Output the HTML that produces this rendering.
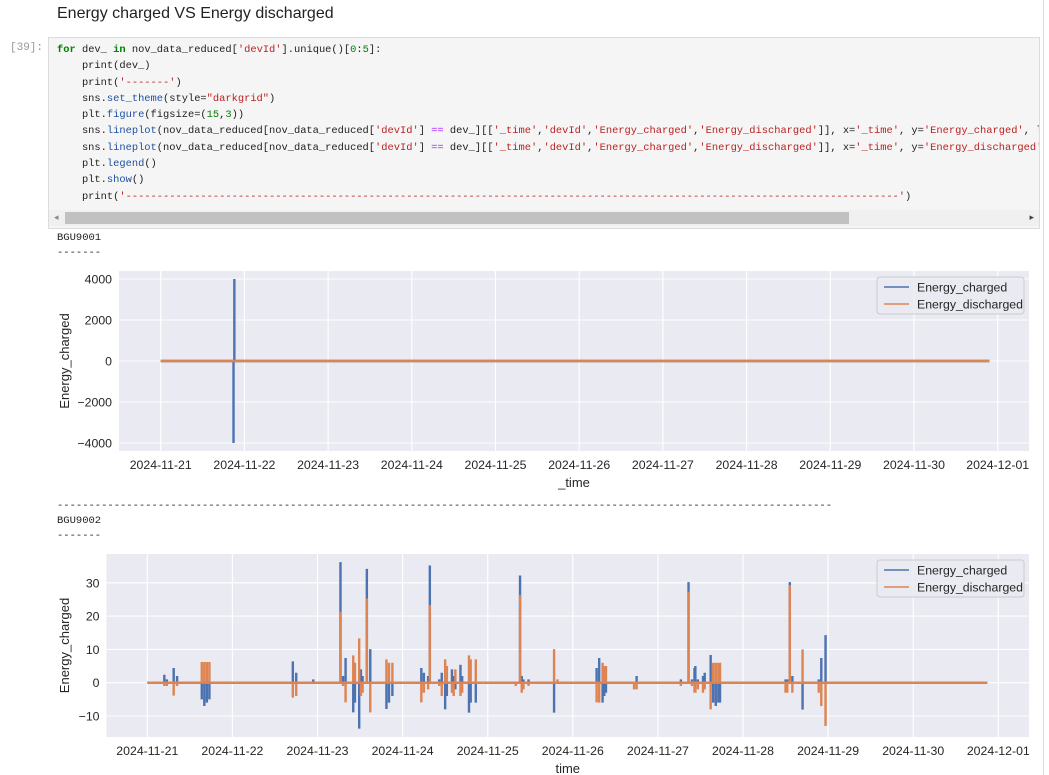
<!DOCTYPE html>
<html><head><meta charset="utf-8"><style>
body{margin:0;width:1049px;height:775px;background:#fff;position:relative;overflow:hidden;font-family:"Liberation Sans",sans-serif}
.abs{position:absolute}
#title{left:57px;top:5px;font-size:16px;color:#222}
#prompt{left:10px;top:42px;font:11px "Liberation Mono",monospace;color:#999}
#cell{left:48px;top:37px;width:990px;height:190px;border:1px solid #dcdcdc;background:#f5f5f5;overflow:hidden}
#code{position:absolute;left:8px;top:4px;margin:0;font:10.4px/16.3px "Liberation Mono",monospace;color:#212121;white-space:pre}
.k{color:#008000;font-weight:bold}.s{color:#ba2121}.n{color:#008000}.o{color:#aa22ff}.a{color:#1f4fa0}
#scroll{position:absolute;left:0;top:172px;width:990px;height:16px;background:#f0f0f0}
#thumb{position:absolute;left:16px;top:2px;width:784px;height:12px;background:#c1c1c1}
.out{font:10.5px "Liberation Mono",monospace;color:#222;white-space:pre}
</style></head><body>
<div id="title" class="abs">Energy charged VS Energy discharged</div>
<div id="prompt" class="abs">[39]:</div>
<div id="cell" class="abs">
<pre id="code"><span class="k">for</span> dev_ <span class="k">in</span> nov_data_reduced[<span class="s">'devId'</span>].unique()[<span class="n">0</span>:<span class="n">5</span>]:
    print(dev_)
    print(<span class="s">'-------'</span>)
    sns.<span class="a">set_theme</span>(style=<span class="s">"darkgrid"</span>)
    plt.<span class="a">figure</span>(figsize=(<span class="n">15</span>,<span class="n">3</span>))
    sns.<span class="a">lineplot</span>(nov_data_reduced[nov_data_reduced[<span class="s">'devId'</span>] <span class="o">==</span> dev_][[<span class="s">'_time'</span>,<span class="s">'devId'</span>,<span class="s">'Energy_charged'</span>,<span class="s">'Energy_discharged'</span>]], x=<span class="s">'_time'</span>, y=<span class="s">'Energy_charged'</span>, label=<span class="s">'Energy_charged'</span>)
    sns.<span class="a">lineplot</span>(nov_data_reduced[nov_data_reduced[<span class="s">'devId'</span>] <span class="o">==</span> dev_][[<span class="s">'_time'</span>,<span class="s">'devId'</span>,<span class="s">'Energy_charged'</span>,<span class="s">'Energy_discharged'</span>]], x=<span class="s">'_time'</span>, y=<span class="s">'Energy_discharged'</span>, label=<span class="s">'Energy_discharged'</span>)
    plt.<span class="a">legend</span>()
    plt.<span class="a">show</span>()
    print(<span class="s">'----------------------------------------------------------------------------------------------------------------------------'</span>)</pre>
<div id="scroll"><div id="thumb"></div>
<div class="abs" style="left:5px;top:2px;font-size:9px;color:#888">◂</div><div class="abs" style="right:5px;top:2px;font-size:9px;color:#444">▸</div></div>
</div>
<div class="abs out" style="left:57px;top:232px">BGU9001</div>
<div class="abs out" style="left:57px;top:247px">-------</div>
<div class="abs out" style="left:57px;top:500px">---------------------------------------------------------------------------------------------------------------------------</div>
<div class="abs out" style="left:57px;top:515px">BGU9002</div>
<div class="abs out" style="left:57px;top:530px">-------</div>
<div class="abs" style="left:1043px;top:0;width:1px;height:775px;background:#ddd"></div>
<svg id="svg" class="abs" style="left:0;top:0" width="1049" height="775" xmlns="http://www.w3.org/2000/svg"></svg>
<script>
const dateLabels=["2024-11-21","2024-11-22","2024-11-23","2024-11-24","2024-11-25","2024-11-26","2024-11-27","2024-11-28","2024-11-29","2024-11-30","2024-12-01"];
// chart 1 (days since 2024-11-21)
const yTicks1=[4000,2000,0,-2000,-4000];
const t1=[0.88,0.87,1.28];
const charged1=[4000,-4000,0];
const discharged1=[0,0,20];
const span1=[0,9.9];
// chart 2
const yTicks2=[30,20,10,0,-10];
const t2=[0.2,0.23,0.31,0.35,0.64,0.67,0.7,0.73,1.71,1.75,1.95,2.27,2.3,2.33,2.42,2.44,2.49,2.51,2.53,2.58,2.62,2.81,2.84,2.88,3.22,3.25,3.3,3.32,3.43,3.46,3.5,3.52,3.58,3.6,3.62,3.68,3.7,3.78,3.8,3.86,4.33,4.38,4.4,4.42,4.48,4.78,4.82,5.28,5.31,5.35,5.37,5.39,5.72,5.75,6.27,6.36,6.4,6.43,6.44,6.47,6.53,6.55,6.62,6.65,6.68,6.71,6.73,7.5,7.52,7.55,7.58,7.7,7.89,7.92,7.97];
const charged2=[2.4,1,4.4,2,-5,-7,-6,-5,6.4,3,1,36.2,2,7.4,-8.9,-6,-13.8,4,2,34.2,10.1,-7.9,-6,-4,4.4,3,2,35.2,1,3,-8,-4,4,2,-2,5.4,2,-9,-6,-6,0,32.2,2,1,1,-9,0,4.4,7.4,-6,-4,-3,0,2,1,30.2,1,4.4,5,1,2,3,8.3,-6,-7,-6,-6,1,1,30.2,2,-8.1,1,7.4,14.3];
const discharged2=[-1,-1,-3.9,-1,6.2,6.2,6.2,6.2,-4.5,-4,0,21.3,-1,-5.9,8.2,6,13.3,-4,-3,25.3,-8.9,7,6,6,-5.9,-3,-2,23.3,-1,-4,7,5,-3,-4,4,-4,-3,8.2,7,7,-1,26.3,-3,-2,-1,10.1,1,-5.9,-6,6,5,5,-2,-2,-1,27.3,-1,-3,-3,-2,-3,-2,-8,6,6,6,6,-3,-3,29.3,-3,10,-3,-7,-13];
const span2=[0,9.87];

const NS="http://www.w3.org/2000/svg";
const svg=document.getElementById('svg');
function mk(tag,attrs,parent){const e=document.createElementNS(NS,tag);for(const k in attrs)e.setAttribute(k,attrs[k]);(parent||svg).appendChild(e);return e;}

function chart(c){
  const g=mk('g',{});
  
  
  const X=t=>c.x0+t*c.dx;
  const Y=v=>c.y0-v*c.dy;
  const bg=mk('rect',{x:c.L,y:c.T,width:c.R-c.L,height:c.B-c.T,fill:'#eaeaf2'},g);
  
  
  dateLabels.forEach((d,i)=>{
    const x=X(i);
    mk('line',{x1:x,x2:x,y1:c.T,y2:c.B,stroke:'#fff','stroke-width':1.1},g);
    const tx=mk('text',{x:x,y:c.B+18,'text-anchor':'middle','font-size':12.3,fill:'#262626','font-family':'Liberation Sans, sans-serif'},g);
    tx.textContent=d;
    
    
  });
  c.yTicks.forEach(v=>{
    const y=Y(v);
    mk('line',{x1:c.L,x2:c.R,y1:y,y2:y,stroke:'#fff','stroke-width':1.1},g);
    const tx=mk('text',{x:c.L-7,y:y+4.5,'text-anchor':'end','font-size':12.3,fill:'#262626','font-family':'Liberation Sans, sans-serif'},g);
    tx.textContent=v<0?'\u2212'+(-v):String(v);
    
    
  });
  const yl=mk('text',{x:0,y:0,transform:`translate(69,${(c.T+c.B)/2}) rotate(-90)`,'text-anchor':'middle','font-size':13,fill:'#262626','font-family':'Liberation Sans, sans-serif'},g);
  yl.textContent='Energy_charged';
  
  
  const xl=mk('text',{x:(c.L+c.R)/2,y:c.B+36,'text-anchor':'middle','font-size':13,fill:'#262626','font-family':'Liberation Sans, sans-serif'},g);
  xl.textContent=c.xlabel;
  
  
  [[c.charged,'#4c72b0','series-energy-charged'],[c.discharged,'#dd8452','series-energy-discharged']].forEach(([vals,col,nm])=>{
    let d=`M${X(c.span[0])},${Y(0)}L${X(c.span[1])},${Y(0)}`;
    c.t.forEach((t,i)=>{d+=`M${X(t)},${Y(0)}L${X(t)},${Y(vals[i])}`;});
    const p=mk('path',{d:d,stroke:col,'stroke-width':2.4,fill:'none'},g);
    
    
  });
  const lg=mk('g',{},g);
  
  
  mk('rect',{x:c.R-152,y:c.T+6,width:147,height:37,rx:3,fill:'#eaeaf2',stroke:'#cccccc','fill-opacity':0.85},lg);
  [['Energy_charged','#4c72b0'],['Energy_discharged','#dd8452']].forEach(([n,col],i)=>{
    const y=c.T+16+i*17;
    mk('line',{x1:c.R-145,x2:c.R-120,y1:y,y2:y,stroke:col,'stroke-width':1.6},lg);
    const tx=mk('text',{x:c.R-112,y:y+4.5,'font-size':12.3,fill:'#262626','font-family':'Liberation Sans, sans-serif'},lg);
    tx.textContent=n;
    
    
  });
}
chart({name:'chart-bgu9001',L:119,R:1029,T:271,B:451,x0:160.7,dx:83.7,y0:361,dy:41/2000,yTicks:yTicks1,t:t1,charged:charged1,discharged:discharged1,span:span1,xlabel:'_time'});
chart({name:'chart-bgu9002',L:106.5,R:1029,T:554,B:737,x0:147.3,dx:85.1,y0:682.7,dy:3.33,yTicks:yTicks2,t:t2,charged:charged2,discharged:discharged2,span:span2,xlabel:'time'});
</script>
</body></html>
